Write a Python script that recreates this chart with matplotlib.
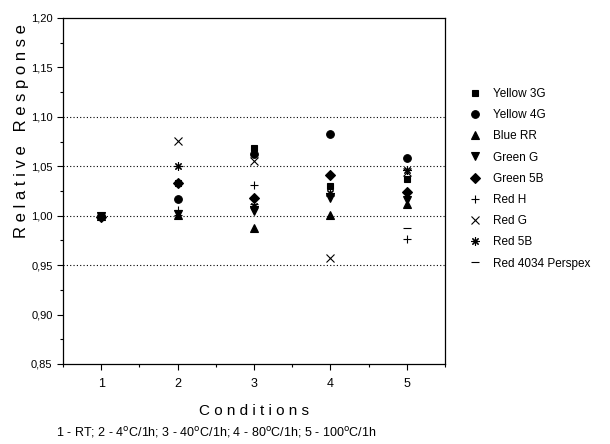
import numpy as np
import matplotlib.pyplot as plt
from matplotlib.ticker import MultipleLocator, FuncFormatter

plt.rcParams['font.family'] = ['Liberation Sans', 'DejaVu Sans']

conditions = [1, 2, 3, 4, 5]
names = ['Yellow 3G', 'Yellow 4G', 'Blue RR', 'Green G', 'Green 5B',
         'Red H', 'Red G', 'Red 5B', 'Red 4034 Perspex']
yellow_3g = [1.000, 1.033, 1.068, 1.030, 1.037]
yellow_4g = [1.000, 1.017, 1.062, 1.083, 1.058]
blue_rr = [1.000, 1.001, 0.988, 1.001, 1.012]
green_g = [1.000, 1.002, 1.005, 1.018, 1.016]
green_5b = [0.999, 1.033, 1.018, 1.041, 1.024]
red_h = [1.000, 1.006, 1.031, 1.021, 0.976]
red_g = [1.000, 1.076, 1.055, 0.957, 1.044]
red_5b = [1.000, 1.050, 1.010, 1.023, 1.046]
red_4034 = [1.000, 1.001, 1.012, 1.020, 0.988]

series = [yellow_3g, yellow_4g, blue_rr, green_g, green_5b,
          red_h, red_g, red_5b, red_4034]
markers = ['s', 'o', '^', 'v', 'D', '+', 'x', (8, 2, 0), '_']
sizes = [5, 5.5, 5.5, 5.5, 5, 6, 6, 6, 6]

fig = plt.figure(figsize=(6.1, 4.44), dpi=100)
ax = fig.add_axes([0.1033, 0.1802, 0.6262, 0.7793])

# dotted reference lines
for y in [0.95, 1.00, 1.05, 1.10]:
    ax.axhline(y, color='black', linestyle=(0, (1, 2)), linewidth=0.8, zorder=1)

for vals, name, m, s in zip(series, names, markers, sizes):
    ax.plot(conditions, vals, linestyle='none', marker=m, markersize=s,
            color='black', markeredgewidth=0.8, label=name, zorder=3)

ax.set_xlim(0.5, 5.5)
ax.set_ylim(0.85, 1.20)
ax.xaxis.set_major_locator(MultipleLocator(1))
ax.xaxis.set_minor_locator(MultipleLocator(0.5))
ax.yaxis.set_major_locator(MultipleLocator(0.05))
ax.yaxis.set_minor_locator(MultipleLocator(0.025))
ax.yaxis.set_major_formatter(FuncFormatter(lambda v, p: f'{v:.2f}'.replace('.', ',')))
ax.tick_params(which='both', direction='out', top=False, right=False, width=0.8)
ax.tick_params(which='major', length=4, labelsize=8)
ax.tick_params(which='minor', length=2.5)
ax.tick_params(axis='x', labelsize=9, pad=6)
for sp in ax.spines.values():
    sp.set_linewidth(0.9)

ax.set_ylabel(' '.join('Relative Response'), fontsize=12)
ax.yaxis.set_label_coords(-0.089, 0.672)
ax.set_xlabel(' '.join('Conditions'), fontsize=11, labelpad=10)
fig.text(0.354, 0.016,
         r'1 - RT; 2 - 4$^{\mathrm{o}}$C/1h; 3 - 40$^{\mathrm{o}}$C/1h; '
         r'4 - 80$^{\mathrm{o}}$C/1h; 5 - 100$^{\mathrm{o}}$C/1h',
         ha='center', fontsize=9)

fig.legend(loc='upper left', bbox_to_anchor=(0.752, 0.826), frameon=False,
           fontsize=8.5, labelspacing=0.78, handletextpad=1.0, handlelength=1.0)

fig.savefig('out.png', dpi=100)
